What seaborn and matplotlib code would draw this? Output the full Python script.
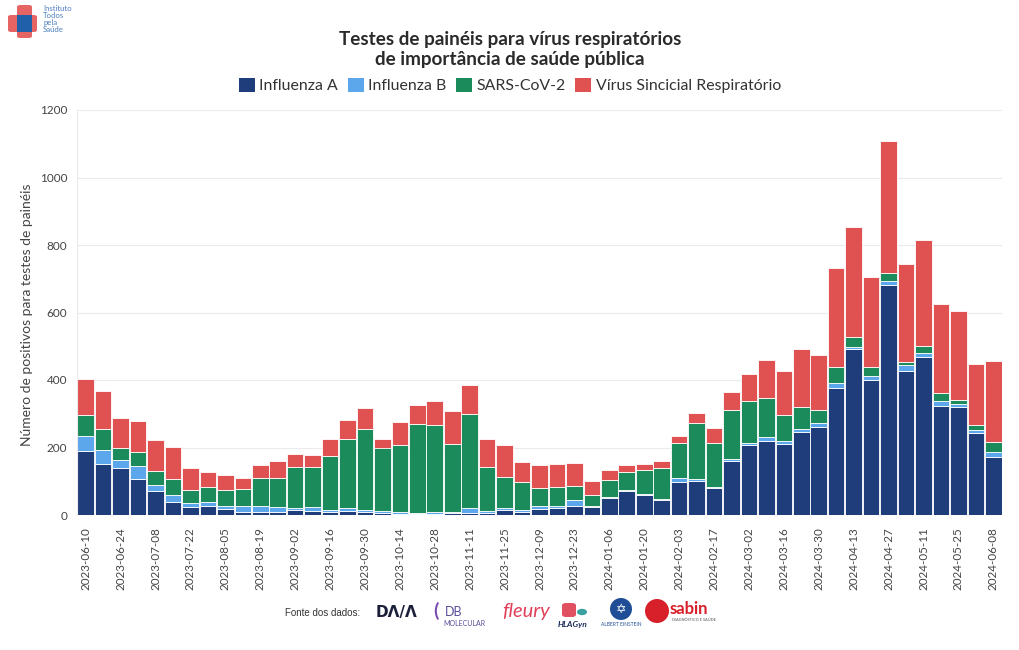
import numpy as np
import pandas as pd
import matplotlib
matplotlib.use("Agg")
import matplotlib.pyplot as plt
import seaborn as sns
from matplotlib.patches import Patch, FancyBboxPatch, Circle, Ellipse

# ---------------- data ----------------
weeks = pd.date_range("2023-06-10", "2024-06-08", freq="7D").strftime("%Y-%m-%d").tolist()

influenza_a = [191, 152, 140, 108, 72, 39, 25, 28, 17, 10, 10, 10, 14, 13, 8, 13, 9, 7, 4, 3,
               2, 7, 7, 7, 14, 8, 18, 22, 28, 24, 49, 71, 58, 45, 99, 100, 81, 161, 207, 220,
               210, 245, 262, 377, 491, 400, 681, 427, 469, 324, 320, 242, 173]
influenza_b = [42, 41, 22, 37, 16, 20, 10, 11, 11, 17, 17, 14, 7, 11, 7, 7, 6, 5, 6, 2,
               6, 3, 13, 5, 7, 7, 9, 6, 16, 2, 4, 3, 4, 2, 12, 8, 2, 6, 6, 10,
               9, 10, 11, 13, 8, 12, 11, 17, 12, 14, 8, 10, 14]
sars_cov_2 = [63, 61, 36, 43, 42, 47, 38, 43, 47, 49, 84, 87, 120, 119, 161, 206, 241, 188, 196, 264,
              258, 201, 278, 129, 91, 84, 53, 54, 41, 34, 50, 53, 71, 92, 102, 166, 129, 145, 124, 118,
              76, 66, 38, 50, 27, 26, 24, 10, 20, 23, 13, 15, 29]
vsr = [107, 113, 88, 90, 92, 96, 67, 46, 44, 35, 36, 48, 41, 35, 48, 54, 60, 24, 69, 56,
       71, 96, 88, 85, 96, 57, 67, 68, 68, 41, 29, 20, 18, 21, 22, 29, 45, 53, 80, 111,
       133, 170, 162, 291, 328, 268, 391, 291, 315, 265, 264, 181, 241]

series_names = ["Influenza A", "Influenza B", "SARS-CoV-2", "Vírus Sincicial Respiratório"]
series_colors = ["#203d7b", "#5ca6ec", "#1b8b5b", "#e05252"]
y_ticks = [0, 200, 400, 600, 800, 1000, 1200]

title_line1 = "Testes de painéis para vírus respiratórios"
title_line2 = "de importância de saúde pública"
y_label = "Número de positivos para testes de painéis"

# ---------------- build long table ----------------
frames = []
for name, vals in zip(series_names, [influenza_a, influenza_b, sars_cov_2, vsr]):
    frames.append(pd.DataFrame({"idx": np.arange(len(weeks)), "semana": weeks,
                                "virus": name, "valor": vals}))
long_df = pd.concat(frames, ignore_index=True)

sns.set_theme(style="white")
plt.rcParams["font.family"] = ["Lato", "DejaVu Sans"]

W, H = 1020, 650
fig = plt.figure(figsize=(W / 100, H / 100), dpi=100)
ax = fig.add_axes([77 / W, 1 - 515 / H, (1002 - 77) / W, 405 / H])

palette = dict(zip(series_names, series_colors))
sns.histplot(data=long_df, x="idx", weights="valor", hue="virus",
             hue_order=series_names[::-1], palette=palette,
             multiple="stack", discrete=True, shrink=0.95,
             edgecolor="white", linewidth=0.6, alpha=1, legend=False, ax=ax)

ax.set_xlim(-0.5, len(weeks) - 0.5)
ax.set_ylim(0, 1200)
ax.set_yticks(y_ticks)
ax.set_yticklabels([str(v) for v in y_ticks])
ax.yaxis.grid(True, color="#ebebeb", linewidth=0.8)
ax.set_axisbelow(True)
ax.set_xticks(np.arange(len(weeks)))
ax.set_xticklabels([w if i % 2 == 0 else "" for i, w in enumerate(weeks)], rotation=90)
ax.tick_params(axis="x", length=4, color="#e6e6e6", width=0.8, pad=5, labelsize=8.4, labelcolor="#444444")
ax.tick_params(axis="y", length=0, pad=7, labelsize=8.5, labelcolor="#444444")
ax.set_xlabel("")
ax.set_ylabel("")
for s in ["top", "right", "bottom"]:
    ax.spines[s].set_visible(False)
ax.spines["left"].set_color("#ebebeb")
ax.spines["left"].set_linewidth(0.8)

fig.text(27 / W, 1 - 315 / H, y_label, rotation=90, ha="center", va="center",
         fontsize=10, color="#444444")

# title
fig.text(0.5, 1 - 45.5 / H, title_line1, ha="center", va="baseline", fontsize=13.6,
         fontweight="bold", color="#2a2a2a")
fig.text(0.5, 1 - 65 / H, title_line2, ha="center", va="baseline", fontsize=13.6,
         fontweight="bold", color="#2a2a2a")

# legend
handles = [Patch(facecolor=c, edgecolor="none", label=n) for n, c in zip(series_names, series_colors)]
fig.legend(handles=handles, loc="center", bbox_to_anchor=(0.5, 1 - 85.5 / H), ncol=4,
           frameon=False, fontsize=11.4, handlelength=1.0, handleheight=1.0,
           handletextpad=0.3, columnspacing=0.6, labelcolor="#333333")

# ---------------- logo top-left ----------------
def fx(px):
    return px / W

def fy(py):
    return 1 - py / H

red = "#e66464"
fig.patches.append(FancyBboxPatch((fx(8), fy(32)), fx(29), 17 / H, boxstyle="round,pad=0,rounding_size=0.003",
                                  transform=fig.transFigure, facecolor=red, edgecolor="none"))
fig.patches.append(FancyBboxPatch((fx(17), fy(38)), fx(15), 33 / H, boxstyle="round,pad=0,rounding_size=0.003",
                                  transform=fig.transFigure, facecolor=red, edgecolor="none"))
fig.patches.append(FancyBboxPatch((fx(17), fy(32)), fx(15), 17 / H, boxstyle="square,pad=0",
                                  transform=fig.transFigure, facecolor="#2060aa", edgecolor="none"))
fig.text(fx(43), fy(5), "Instituto\nTodos\npela\nSaúde", ha="left", va="top", fontsize=5.6,
         color="#4a7cc0", linespacing=1.0)

# ---------------- footer sources ----------------
fig.text(fx(285), fy(613), "Fonte dos dados:", ha="left", va="center", fontsize=7,
         family=["Liberation Sans", "DejaVu Sans"], color="#333333")
fig.text(fx(376), fy(613), "DΛ/Λ", ha="left", va="center", fontsize=11, fontweight="bold",
         family=["DejaVu Sans"], color="#1c1f3a")
fig.text(fx(433), fy(611), "(", ha="left", va="center", fontsize=14, fontweight="bold", color="#7b4fb0")
fig.text(fx(445), fy(612), "DB", ha="left", va="center", fontsize=9, color="#5b4f9a")
fig.text(fx(443), fy(624), "MOLECULAR", ha="left", va="center", fontsize=5, color="#5b4f9a")
fig.text(fx(502), fy(612), "fleury", ha="left", va="center", fontsize=14.5, style="italic",
         color="#e0405a")
fig.patches.append(FancyBboxPatch((fx(562), fy(617)), fx(14), 14 / H, boxstyle="round,pad=0,rounding_size=0.004",
                                  transform=fig.transFigure, facecolor="#e05060", edgecolor="none"))
fig.patches.append(Circle((fx(582), fy(612)), 5 / W, transform=fig.transFigure,
                          facecolor="#3aa0a0", edgecolor="none"))
fig.text(fx(558), fy(625), "HLAGyn", ha="left", va="center", fontsize=6, fontweight="bold",
         style="italic", color="#1c2a5a")
fig.patches.append(Ellipse((fx(621), fy(609)), 22 / W, 22 / H, transform=fig.transFigure,
                           facecolor="#1f4e96", edgecolor="none"))
fig.text(fx(621), fy(609), "✡", ha="center", va="center", fontsize=9, color="white",
         family=["DejaVu Sans"])
fig.text(fx(621), fy(625), "ALBERT EINSTEIN", ha="center", va="center", fontsize=3.5, color="#1f4e96")
fig.patches.append(Ellipse((fx(657), fy(611)), 24 / W, 24 / H, transform=fig.transFigure,
                           facecolor="#d8202a", edgecolor="none"))
fig.text(fx(670), fy(609), "sabin", ha="left", va="center", fontsize=12, fontweight="bold",
         color="#d8202a")
fig.text(fx(672), fy(620), "DIAGNÓSTICO E SAÚDE", ha="left", va="center", fontsize=2.8, color="#555555")

fig.savefig("out.png", dpi=100)
